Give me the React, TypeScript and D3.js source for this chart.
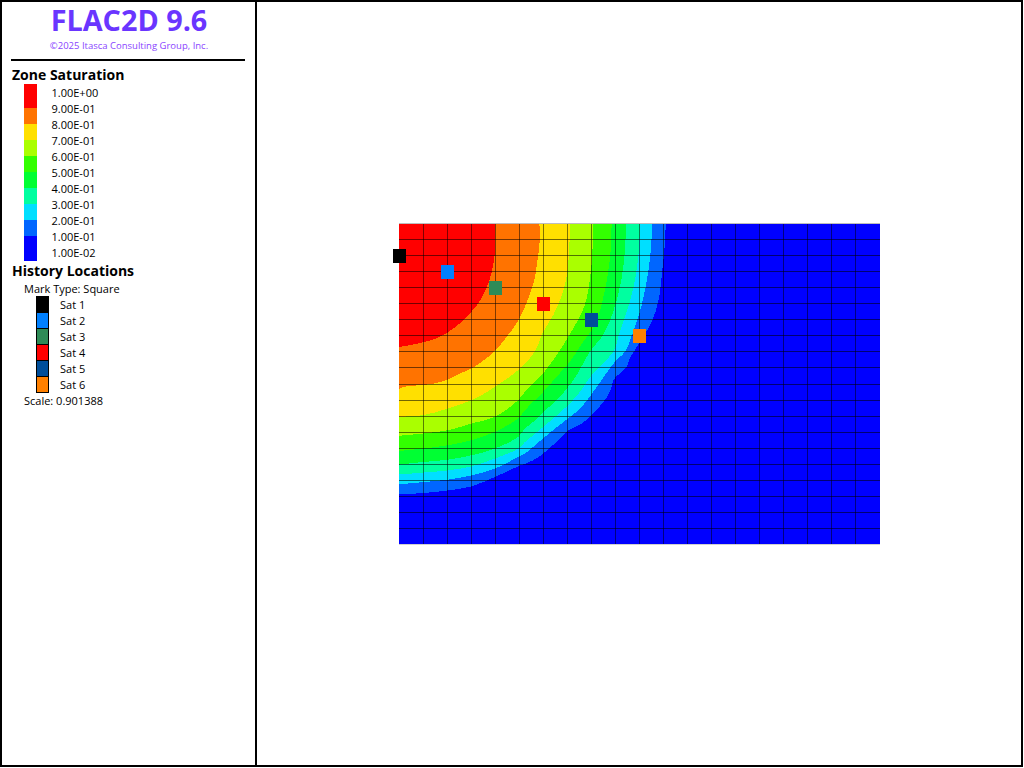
import { curveCatmullRom, line, scaleLinear } from "d3";

const contourLevels = [0.1, 0.2, 0.3, 0.4, 0.5, 0.6, 0.7, 0.8, 0.9];
const bandColors = ["#0000ff", "#0066ff", "#00dfff", "#00ffa0", "#00ff33", "#33ff00", "#aaff00", "#ffe000", "#ff7300", "#ff0000"];

// contour boundaries in model units, from the top edge round to the left edge
const contour10: [number, number][] = [[11.09, 0], [11.06, 1.11], [10.96, 2.75], [10.78, 4.86], [10.51, 6.11], [9.99, 7.46], [9.6, 8.39], [9.47, 8.92], [8.91, 9.75], [8.87, 10.06], [8.7, 10.69], [8.01, 11.94], [7.6, 12.46], [7.04, 12.88], [6.62, 13.5], [6.0, 14.33], [5.58, 14.75], [4.96, 15.13], [3.99, 15.79], [3.02, 16.38], [2.05, 16.63], [1.01, 16.79], [0, 16.88]];
const contour20: [number, number][] = [[10.51, 0], [10.51, 0.69], [10.44, 2.13], [10.3, 3.61], [10.02, 5.48], [9.74, 6.73], [9.4, 7.98], [8.98, 8.61], [8.57, 9.44], [8.08, 10.48], [7.6, 11.42], [7.04, 12.14], [6.49, 12.77], [6.07, 13.29], [5.58, 13.92], [5.24, 14.33], [4.96, 14.54], [3.99, 15.27], [3.02, 15.69], [2.05, 15.96], [1.01, 16.11], [0, 16.25]];
const contour30: [number, number][] = [[10.02, 0], [9.98, 1.5], [9.85, 3.19], [9.6, 4.86], [9.19, 6.73], [8.91, 7.98], [8.43, 8.81], [8.01, 9.44], [7.53, 10.48], [7.04, 11.31], [6.49, 12.04], [6.0, 12.67], [5.58, 13.19], [5.24, 13.61], [4.96, 14.02], [3.99, 14.64], [3.02, 15.13], [2.05, 15.38], [1.01, 15.52], [0, 15.64]];
const contour40: [number, number][] = [[9.44, 0], [9.4, 1.5], [9.26, 3.38], [8.91, 5.48], [8.49, 6.94], [7.94, 7.98], [7.39, 9.44], [7.04, 10.17], [6.49, 11.11], [6.0, 11.73], [5.58, 12.36], [5.24, 12.77], [4.96, 13.29], [3.99, 14.02], [3.02, 14.44], [2.05, 14.71], [1.01, 14.86], [0, 15.02]];
const contour50: [number, number][] = [[8.84, 0], [8.81, 1.5], [8.7, 2.98], [8.52, 4.44], [8.15, 6.31], [7.66, 7.36], [7.11, 8.61], [6.62, 9.44], [6.0, 10.48], [5.58, 11.11], [5.24, 11.63], [4.96, 12.14], [3.99, 12.98], [3.02, 13.5], [2.05, 13.81], [1.01, 14.02], [0, 14.17]];
const contour60: [number, number][] = [[8.08, 0], [8.05, 1.5], [7.98, 2.98], [7.73, 5.06], [7.25, 6.52], [6.56, 8.19], [5.93, 9.44], [5.58, 9.96], [5.24, 10.48], [4.96, 11.0], [3.99, 12.04], [3.02, 12.46], [2.05, 12.88], [1.01, 13.08], [0, 13.23]];
const contour70: [number, number][] = [[7.11, 0], [7.08, 1.5], [7.0, 2.98], [6.83, 4.23], [6.42, 5.69], [6.0, 6.73], [5.65, 7.98], [4.96, 9.13], [4.41, 9.75], [3.99, 10.17], [3.44, 10.69], [3.02, 11.0], [2.05, 11.52], [1.01, 11.94], [0, 12.04]];
const contour80: [number, number][] = [[5.83, 0], [5.86, 0.56], [5.83, 1.5], [5.73, 2.56], [5.65, 3.38], [5.38, 4.64], [4.96, 6.06], [4.54, 6.94], [3.99, 7.94], [3.44, 8.61], [3.02, 9.02], [2.47, 9.39], [1.98, 9.75], [1.5, 9.96], [1.01, 10.06], [0.25, 10.17], [0, 10.31]];
const contour90: [number, number][] = [[4.0, 0], [4.0, 1.52], [3.92, 2.56], [3.74, 3.61], [3.44, 4.64], [3.02, 5.48], [2.54, 6.21], [1.98, 6.83], [1.5, 7.19], [1.01, 7.39], [0.53, 7.56], [0, 7.69]];
const contours = [contour10, contour20, contour30, contour40, contour50, contour60, contour70, contour80, contour90];

const gridCells = [...Array(21).keys()];

const legendLabels = ["1.00E+00", "9.00E-01", "8.00E-01", "7.00E-01", "6.00E-01", "5.00E-01", "4.00E-01", "3.00E-01", "2.00E-01", "1.00E-01", "1.00E-02"];

const historyNames = ["Sat 1", "Sat 2", "Sat 3", "Sat 4", "Sat 5", "Sat 6"];
const historyColors = ["#000000", "#0080ff", "#2e8b57", "#ff0000", "#004e9a", "#ff8000"];
const historyX = [0, 2, 4, 6, 8, 10];
const historyY = [2, 3, 4, 5, 6, 7];

const uiFont = "'Open Sans', 'Noto Sans', sans-serif";

export default function App() {
  const x = scaleLinear().domain([0, 20]).range([399, 880]);
  const y = scaleLinear().domain([0, 20]).range([223.5, 544.5]);

  const contourPath = line<[number, number]>()
    .x((d) => x(d[0]))
    .y((d) => y(d[1]))
    .curve(curveCatmullRom);

  const legendY = scaleLinear().domain([0, 10]).range([92, 252]);
  const historyRow = scaleLinear().domain([0, 5]).range([304, 384]);

  // legend bands run between label centres, first and last ones run past them
  const bandOrder = [...bandColors].reverse();
  const bandTop = (i: number) => (i === 0 ? legendY(0) - 8 : legendY(i));
  const bandBottom = (i: number) => (i === 9 ? legendY(10) + 9 : legendY(i + 1));

  const snap = (v: number) => Math.floor(v) + 0.5;

  return (
    <svg
      width={1024}
      height={768}
      viewBox="0 0 1024 768"
      style={{ position: "fixed", left: 0, top: 0, background: "#fff" }}
      role="img"
      aria-label="FLAC2D zone saturation plot with history locations"
    >
      <g shapeRendering="crispEdges">
        <rect x={x(0)} y={y(0)} width={x(20) - x(0)} height={y(20) - y(0)} fill={bandColors[0]} />
        {contours.map((points, i) => (
          <path
            key={contourLevels[i]}
            d={`${contourPath(points)}L${x(0)},${y(0)}Z`}
            fill={bandColors[i + 1]}
          />
        ))}
        {gridCells.slice(1, 20).map((cell) => (
          <line
            key={`col-${cell}`}
            x1={snap(x(cell))}
            x2={snap(x(cell))}
            y1={y(0) - 0.5}
            y2={y(20)}
            stroke="#000"
            strokeOpacity={0.5}
          />
        ))}
        {gridCells.slice(1, 20).map((cell) => (
          <line
            key={`row-${cell}`}
            x1={x(0)}
            x2={x(20)}
            y1={snap(y(cell))}
            y2={snap(y(cell))}
            stroke="#000"
            strokeOpacity={0.55}
          />
        ))}
        <line x1={x(0)} x2={x(20)} y1={snap(y(0))} y2={snap(y(0))} stroke="#bdbdbd" />
        <line x1={x(0)} x2={x(20)} y1={snap(y(20))} y2={snap(y(20))} stroke="#d0d0d0" />
        {historyNames.map((name, i) => (
          <rect
            key={name}
            x={Math.floor(x(historyX[i])) - 6}
            y={Math.floor(y(historyY[i])) - 6}
            width={13}
            height={14}
            fill={historyColors[i]}
          />
        ))}
      </g>

      <g fill="#000" fontFamily={uiFont}>
        <text x={129} y={31} textAnchor="middle" fontSize={28.8} fontWeight={700} fill="#6a35ff">FLAC2D 9.6</text>
        <text x={129} y={49} textAnchor="middle" fontSize={9.5} fill="#8a45ff">©2025 Itasca Consulting Group, Inc.</text>
        <text x={12} y={80} fontSize={14} fontWeight={700}>Zone Saturation</text>
        <text x={12} y={276} fontSize={14} fontWeight={700}>History Locations</text>
        <text x={24} y={293} fontSize={11}>Mark Type: Square</text>
        <text x={24} y={405} fontSize={11}>Scale: 0.901388</text>
        {legendLabels.map((label, i) => (
          <text key={label} x={51.5} y={legendY(i) + 5} fontSize={11}>{label}</text>
        ))}
        {historyNames.map((name, i) => (
          <text key={name} x={60} y={historyRow(i) + 5} fontSize={11}>{name}</text>
        ))}
      </g>

      <g shapeRendering="crispEdges">
        {bandOrder.map((color, i) => (
          <rect key={color} x={24} y={bandTop(i)} width={13} height={bandBottom(i) - bandTop(i)} fill={color} />
        ))}
        {historyNames.map((name, i) => (
          <rect
            key={name}
            x={36.5}
            y={historyRow(i) - 8 + 0.5}
            width={12}
            height={16}
            fill={historyColors[i]}
            stroke="#000"
          />
        ))}
        <rect x={11} y={59} width={234} height={2} fill="#000" />
        <rect x={1} y={1} width={1021} height={765} fill="none" stroke="#000" strokeWidth={2} />
        <rect x={255} y={0} width={2} height={767} fill="#000" />
      </g>
    </svg>
  );
}
